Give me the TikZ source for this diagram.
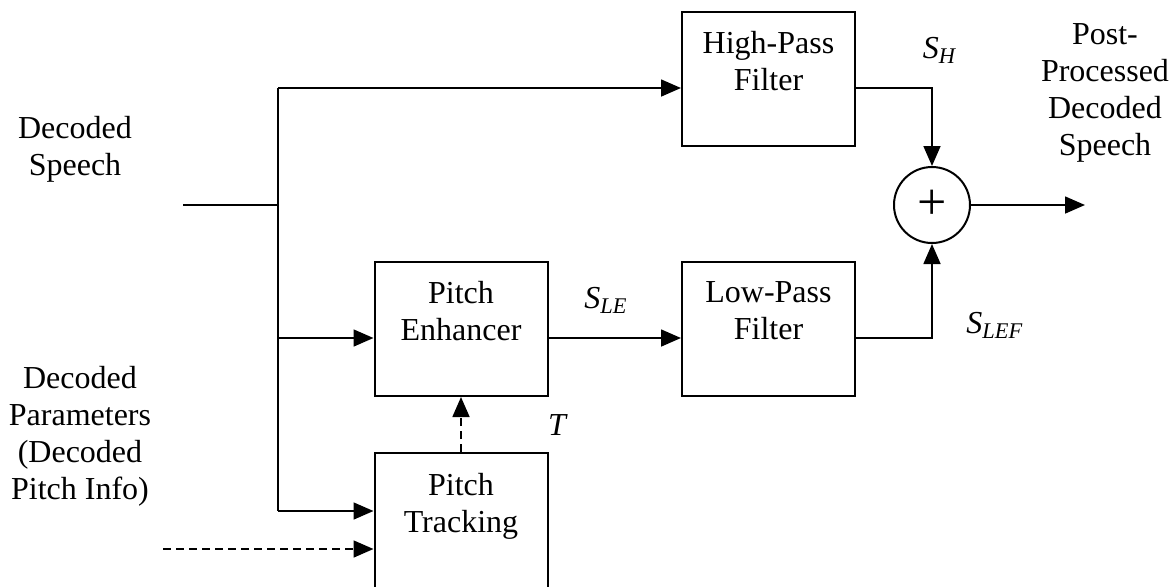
\documentclass[tikz,border=0pt]{standalone}
\usepackage{fontspec}
\setmainfont{Liberation Serif}
\usetikzlibrary{
arrows.meta,
positioning,
shapes
}

\begin{document}
\begin{tikzpicture}[
    x=0.5pt, y=-0.5pt,
    >={Triangle[angle=50:10pt,length=10pt]},
    line width=1pt,
    every node/.style={font=\fontsize{16}{18.5}\selectfont, align=center},
    block/.style={draw, rectangle, minimum width=86.5pt, minimum height=67pt, inner sep=0pt},
    adder/.style={draw, circle, minimum size=38pt, inner sep=0pt, font=\fontsize{26}{26}\selectfont},
    sig/.style={inner sep=0pt},
    ctrl/.style={->, dashed, dash pattern=on 4pt off 2.5pt}]
  \clip (0,0) rectangle (1175,586);
  % blocks
  \node[block] (HPF) at (768.5,79) {High-Pass\\Filter\\\mbox{}};
  \node[block] (PE) at (461,329) {Pitch\\Enhancer\\\mbox{}};
  \node[block] (LPF) at (768.5,329) {Low-Pass\\Filter\\\mbox{}};
  \node[block, minimum height=68.5pt] (PT) at (461,521.5) {Pitch\\Tracking\\\mbox{}};
  \node[adder] (sum) at (932,205) {+};
  % texts
  \node[sig] (in) at (75,149) {Decoded\\Speech};
  \node[sig] (par) at (80,436) {Decoded\\Parameters\\(Decoded\\Pitch Info)};
  \node[sig] (out) at (1105,93) {Post-\\Processed\\Decoded\\Speech};
  \node[sig] (SH) at (940,50) {\textit{S}\textsubscript{\textit{H}}};
  \node[sig] (SLE) at (606,300) {\textit{S}\textsubscript{\textit{LE}}};
  \node[sig] (SLEF) at (995,325) {\textit{S}\textsubscript{\textit{LEF}}};
  \node[sig] (T) at (558,425) {\textit{T}};
  % junctions
  \coordinate (src) at (183,205);
  \coordinate (j) at (278,205);
  \coordinate (jH) at (278,88);
  \coordinate (jE) at (278,338);
  \coordinate (jT) at (278,511);
  \coordinate (dst) at (1085,205);
  \coordinate (pin) at (163,549);
  \draw (src) -- (j) (jH) -- (jT);
  \draw[->] (jH) -- (jH -| HPF.west);
  \draw[->] (jE) -- (jE -| PE.west);
  \draw[->] (jT) -- (jT -| PT.west);
  \draw[->] (PE.east |- jE) -- (LPF.west |- jE);
  \draw[->] (HPF.east |- jH) -| (sum.north);
  \draw[->] (LPF.east |- jE) -| (sum.south);
  \draw[->] (sum.east) -- (dst);
  \draw[ctrl] (pin) -- (pin -| PT.west);
  \draw[ctrl] (PT.north) -- (PE.south);
\end{tikzpicture}
\end{document}
